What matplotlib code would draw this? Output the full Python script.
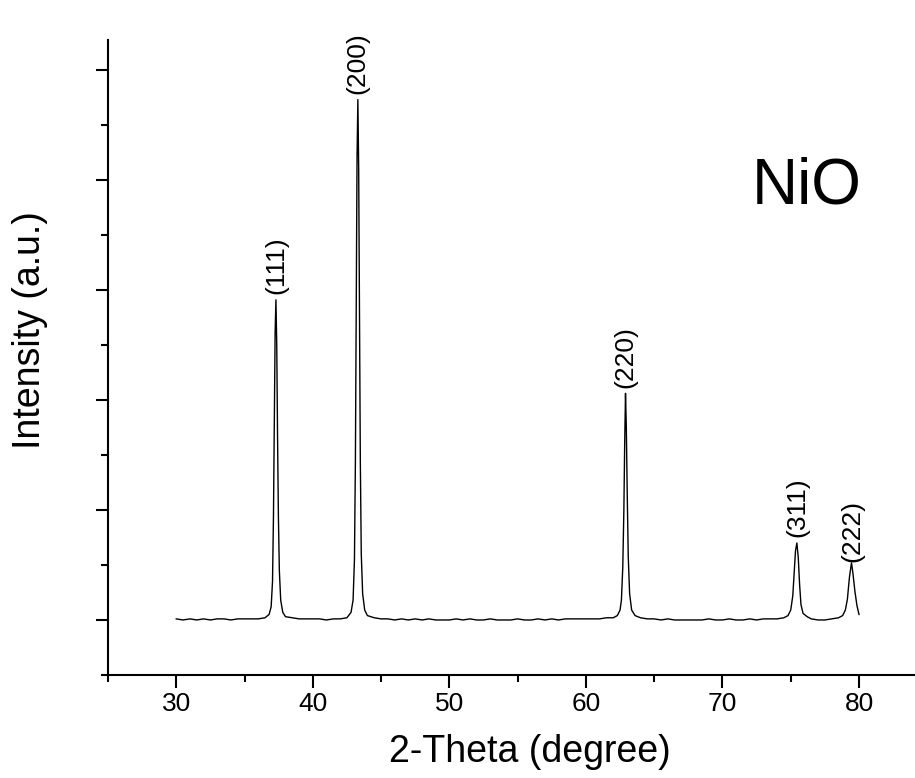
import numpy as np
import matplotlib.pyplot as plt
from matplotlib.ticker import MultipleLocator, NullFormatter

plt.rcParams['font.family'] = ['Liberation Sans', 'DejaVu Sans']

# XRD pattern of NiO (intensity in arbitrary units)
two_theta = [30.0, 30.5, 31.0, 31.5, 32.0, 32.5, 33.0, 33.5, 34.0, 34.5, 35.0, 35.5, 36.0, 36.5,
             36.8, 36.95, 37.05, 37.12, 37.18, 37.24, 37.3, 37.36, 37.42, 37.48, 37.55, 37.65, 37.8, 38.0,
             38.5, 39.0, 39.5, 40.0, 40.5, 41.0, 41.5, 42.0, 42.5,
             42.8, 42.95, 43.05, 43.12, 43.18, 43.24, 43.3, 43.36, 43.42, 43.48, 43.55, 43.65, 43.8, 44.0,
             44.5, 45.0, 45.5, 46.0, 46.5, 47.0, 47.5, 48.0, 48.5, 49.0, 49.5, 50.0, 50.5, 51.0, 51.5,
             52.0, 52.5, 53.0, 53.5, 54.0, 54.5, 55.0, 55.5, 56.0, 56.5, 57.0, 57.5, 58.0, 58.5, 59.0,
             59.5, 60.0, 60.5, 61.0, 61.5, 62.0,
             62.3, 62.5, 62.6, 62.7, 62.78, 62.84, 62.9, 62.96, 63.02, 63.1, 63.2, 63.35, 63.6, 64.0,
             64.5, 65.0, 65.5, 66.0, 66.5, 67.0, 67.5, 68.0, 68.5, 69.0, 69.5, 70.0, 70.5, 71.0, 71.5,
             72.0, 72.5, 73.0, 73.5, 74.0, 74.5,
             74.8, 75.0, 75.15, 75.25, 75.35, 75.45, 75.55, 75.65, 75.75, 75.9, 76.2,
             76.5, 77.0, 77.5, 78.0, 78.5,
             78.8, 79.0, 79.15, 79.3, 79.45, 79.55, 79.7, 79.85, 80.0]
intensity = [0.01, 0.00, 0.01, 0.00, 0.01, 0.00, 0.01, 0.01, 0.00, 0.01, 0.01, 0.01, 0.01, 0.02,
             0.05, 0.12, 0.35, 0.95, 1.75, 2.60, 2.91, 2.50, 1.65, 0.95, 0.45, 0.18, 0.07, 0.03,
             0.02, 0.01, 0.01, 0.01, 0.01, 0.00, 0.01, 0.01, 0.02,
             0.07, 0.18, 0.55, 1.45, 2.80, 4.20, 4.73, 4.10, 2.70, 1.45, 0.60, 0.24, 0.09, 0.04,
             0.02, 0.01, 0.01, 0.00, 0.01, 0.00, 0.01, 0.00, 0.01, 0.00, 0.00, 0.00, 0.01, 0.00, 0.01,
             0.00, 0.00, 0.01, 0.00, 0.00, 0.00, 0.01, 0.00, 0.00, 0.01, 0.00, 0.01, 0.00, 0.01, 0.01,
             0.01, 0.01, 0.01, 0.01, 0.02, 0.02,
             0.04, 0.09, 0.18, 0.48, 1.00, 1.60, 2.06, 1.75, 1.20, 0.58, 0.24, 0.09, 0.04, 0.02,
             0.01, 0.01, 0.00, 0.01, 0.00, 0.00, 0.00, 0.00, 0.00, 0.01, 0.00, 0.00, 0.01, 0.00, 0.00,
             0.01, 0.00, 0.01, 0.01, 0.01, 0.02,
             0.04, 0.09, 0.22, 0.42, 0.63, 0.70, 0.57, 0.32, 0.14, 0.06, 0.03,
             0.01, 0.00, 0.00, 0.01, 0.02,
             0.04, 0.09, 0.19, 0.39, 0.52, 0.43, 0.26, 0.13, 0.05]

hkl_labels = ['(111)', '(200)', '(220)', '(311)', '(222)']
hkl_positions = [37.3, 43.3, 62.9, 75.45, 79.5]

fig = plt.figure(figsize=(9.15, 7.78), dpi=100)
ax = fig.add_axes([0.118, 0.1324, 0.882, 0.816])

ax.plot(two_theta, intensity, color='black', linewidth=1.0)

for label, pos in zip(hkl_labels, hkl_positions):
    peak = np.interp(pos, two_theta, intensity)
    ax.text(pos, peak + 0.05, label, rotation=90, ha='center', va='bottom', fontsize=19)

ax.text(0.866, 0.77, 'NiO', transform=ax.transAxes, ha='center', va='center', fontsize=46)

ax.set_xlim(25, 84.1)
ax.set_ylim(-0.5, 5.27)
ax.xaxis.set_major_locator(MultipleLocator(10))
ax.xaxis.set_minor_locator(MultipleLocator(5))
ax.yaxis.set_major_locator(MultipleLocator(1))
ax.yaxis.set_minor_locator(MultipleLocator(0.5))
ax.yaxis.set_major_formatter(NullFormatter())

for side in ['top', 'right']:
    ax.spines[side].set_visible(False)
for side in ['left', 'bottom']:
    ax.spines[side].set_linewidth(1.5)

ax.tick_params(which='major', length=9, width=1.5, labelsize=19, pad=3)
ax.tick_params(which='minor', length=5, width=1.5)

ax.set_xlabel('2-Theta (degree)', fontsize=27)
ax.set_ylabel('Intensity (a.u.)', fontsize=27)
ax.xaxis.set_label_coords(0.523, -0.093)
ax.yaxis.set_label_coords(-0.074, 0.543)

fig.savefig('out.png', dpi=100)
